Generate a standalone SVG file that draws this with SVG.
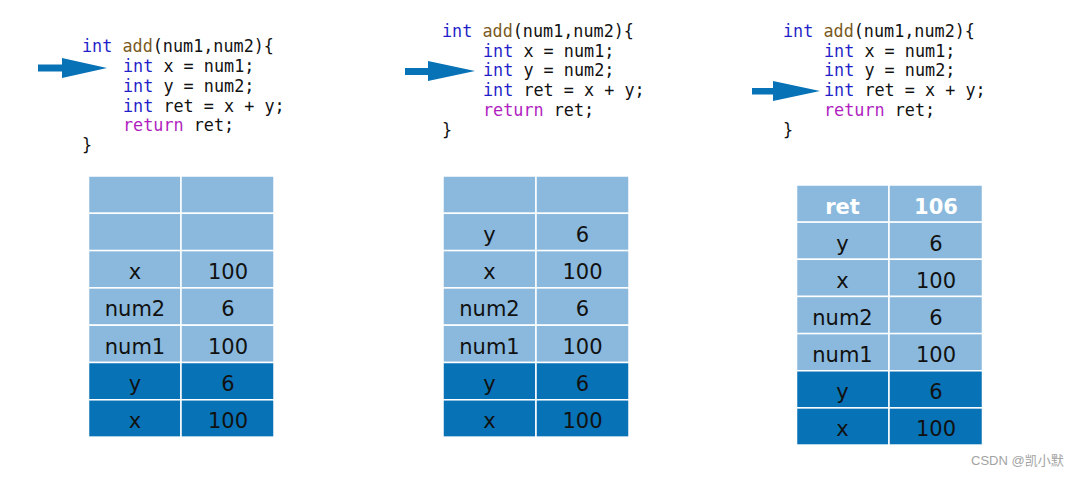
<svg xmlns="http://www.w3.org/2000/svg" width="1084" height="479" viewBox="0 0 1084 479">
<style>
.code{font-family:"DejaVu Sans Mono","Liberation Mono",monospace;font-size:16.8px;fill:#111}
.kw{fill:#1f1fc8}
.fn{fill:#7a5a1e}
.rt{fill:#b01ec0}
.lt{fill:#8ab9dd;stroke:#ffffff;stroke-width:1.5}
.dk{fill:#0872b6;stroke:#ffffff;stroke-width:1.5}
.cell{font-family:"DejaVu Sans","Noto Sans",sans-serif;font-size:21px;fill:#111;text-anchor:middle}
.wh{fill:#ffffff;font-weight:bold}
.arr{fill:#0872b6}
.wm{font-family:"Liberation Sans","Noto Sans CJK SC",sans-serif;font-size:13px;fill:#a3a3a3}
</style>
<rect width="1084" height="479" fill="#ffffff"/>

<g id="code1" class="code">
<text x="82" y="51.5"><tspan class="kw">int</tspan> <tspan class="fn">add</tspan>(num1,num2){</text>
<text x="123" y="71.5"><tspan class="kw">int</tspan> x = num1;</text>
<text x="123" y="91.5"><tspan class="kw">int</tspan> y = num2;</text>
<text x="123" y="111.5"><tspan class="kw">int</tspan> ret = x + y;</text>
<text x="123" y="131.2"><tspan class="rt">return</tspan> ret;</text>
<text x="82" y="151">}</text>
</g>
<g id="code2" class="code">
<text x="442" y="36.7"><tspan class="kw">int</tspan> <tspan class="fn">add</tspan>(num1,num2){</text>
<text x="483" y="56.5"><tspan class="kw">int</tspan> x = num1;</text>
<text x="483" y="76.3"><tspan class="kw">int</tspan> y = num2;</text>
<text x="483" y="96.1"><tspan class="kw">int</tspan> ret = x + y;</text>
<text x="483" y="115.9"><tspan class="rt">return</tspan> ret;</text>
<text x="442" y="135.7">}</text>
</g>
<g id="code3" class="code">
<text x="783" y="36.7"><tspan class="kw">int</tspan> <tspan class="fn">add</tspan>(num1,num2){</text>
<text x="824" y="56.5"><tspan class="kw">int</tspan> x = num1;</text>
<text x="824" y="76.3"><tspan class="kw">int</tspan> y = num2;</text>
<text x="824" y="96.1"><tspan class="kw">int</tspan> ret = x + y;</text>
<text x="824" y="115.9"><tspan class="rt">return</tspan> ret;</text>
<text x="783" y="135.7">}</text>
</g>

<g id="connectors">
<polygon class="arr" points="38,64.5 62,64.5 62,58 107,68 62,78 62,71.5 38,71.5"/>
<polygon class="arr" points="405,68 428,68 428,61 475,71 428,81 428,75 405,75"/>
<polygon class="arr" points="752,88 773,88 773,81 820,91 773,101 773,94.5 752,94.5"/>
</g>

<g id="stack1">
<rect class="lt" x="88.5" y="176" width="92.5" height="37.3"/><rect class="lt" x="181" y="176" width="93" height="37.3"/>
<rect class="lt" x="88.5" y="213.3" width="92.5" height="37.3"/><rect class="lt" x="181" y="213.3" width="93" height="37.3"/>
<rect class="lt" x="88.5" y="250.6" width="92.5" height="37.3"/><rect class="lt" x="181" y="250.6" width="93" height="37.3"/>
<rect class="lt" x="88.5" y="287.9" width="92.5" height="37.3"/><rect class="lt" x="181" y="287.9" width="93" height="37.3"/>
<rect class="lt" x="88.5" y="325.2" width="92.5" height="37.3"/><rect class="lt" x="181" y="325.2" width="93" height="37.3"/>
<rect class="dk" x="88.5" y="362.5" width="92.5" height="37.3"/><rect class="dk" x="181" y="362.5" width="93" height="37.3"/>
<rect class="dk" x="88.5" y="399.8" width="92.5" height="37.3"/><rect class="dk" x="181" y="399.8" width="93" height="37.3"/>
<text class="cell" x="135" y="279">x</text><text class="cell" x="228" y="279">100</text>
<text class="cell" x="135" y="316.3">num2</text><text class="cell" x="228" y="316.3">6</text>
<text class="cell" x="135" y="353.6">num1</text><text class="cell" x="228" y="353.6">100</text>
<text class="cell" x="135" y="390.9">y</text><text class="cell" x="228" y="390.9">6</text>
<text class="cell" x="135" y="428.2">x</text><text class="cell" x="228" y="428.2">100</text>
</g>

<g id="stack2">
<rect class="lt" x="443" y="176" width="93" height="37.3"/><rect class="lt" x="536" y="176" width="93" height="37.3"/>
<rect class="lt" x="443" y="213.3" width="93" height="37.3"/><rect class="lt" x="536" y="213.3" width="93" height="37.3"/>
<rect class="lt" x="443" y="250.6" width="93" height="37.3"/><rect class="lt" x="536" y="250.6" width="93" height="37.3"/>
<rect class="lt" x="443" y="287.9" width="93" height="37.3"/><rect class="lt" x="536" y="287.9" width="93" height="37.3"/>
<rect class="lt" x="443" y="325.2" width="93" height="37.3"/><rect class="lt" x="536" y="325.2" width="93" height="37.3"/>
<rect class="dk" x="443" y="362.5" width="93" height="37.3"/><rect class="dk" x="536" y="362.5" width="93" height="37.3"/>
<rect class="dk" x="443" y="399.8" width="93" height="37.3"/><rect class="dk" x="536" y="399.8" width="93" height="37.3"/>
<text class="cell" x="489.5" y="241.7">y</text><text class="cell" x="582.5" y="241.7">6</text>
<text class="cell" x="489.5" y="279">x</text><text class="cell" x="582.5" y="279">100</text>
<text class="cell" x="489.5" y="316.3">num2</text><text class="cell" x="582.5" y="316.3">6</text>
<text class="cell" x="489.5" y="353.6">num1</text><text class="cell" x="582.5" y="353.6">100</text>
<text class="cell" x="489.5" y="390.9">y</text><text class="cell" x="582.5" y="390.9">6</text>
<text class="cell" x="489.5" y="428.2">x</text><text class="cell" x="582.5" y="428.2">100</text>
</g>

<g id="stack3">
<rect class="lt" x="796.5" y="185" width="92.5" height="37.15"/><rect class="lt" x="889" y="185" width="93.5" height="37.15"/>
<rect class="lt" x="796.5" y="222.15" width="92.5" height="37.15"/><rect class="lt" x="889" y="222.15" width="93.5" height="37.15"/>
<rect class="lt" x="796.5" y="259.3" width="92.5" height="37.15"/><rect class="lt" x="889" y="259.3" width="93.5" height="37.15"/>
<rect class="lt" x="796.5" y="296.45" width="92.5" height="37.15"/><rect class="lt" x="889" y="296.45" width="93.5" height="37.15"/>
<rect class="lt" x="796.5" y="333.6" width="92.5" height="37.15"/><rect class="lt" x="889" y="333.6" width="93.5" height="37.15"/>
<rect class="dk" x="796.5" y="370.75" width="92.5" height="37.15"/><rect class="dk" x="889" y="370.75" width="93.5" height="37.15"/>
<rect class="dk" x="796.5" y="407.9" width="92.5" height="37.15"/><rect class="dk" x="889" y="407.9" width="93.5" height="37.15"/>
<text class="cell wh" x="842.5" y="213.5">ret</text><text class="cell wh" x="936" y="213.5">106</text>
<text class="cell" x="842.5" y="250.7">y</text><text class="cell" x="936" y="250.7">6</text>
<text class="cell" x="842.5" y="287.8">x</text><text class="cell" x="936" y="287.8">100</text>
<text class="cell" x="842.5" y="325">num2</text><text class="cell" x="936" y="325">6</text>
<text class="cell" x="842.5" y="362.1">num1</text><text class="cell" x="936" y="362.1">100</text>
<text class="cell" x="842.5" y="399.3">y</text><text class="cell" x="936" y="399.3">6</text>
<text class="cell" x="842.5" y="436.4">x</text><text class="cell" x="936" y="436.4">100</text>
</g>

<text class="wm" x="971" y="465">CSDN @凯小默</text>
</svg>
